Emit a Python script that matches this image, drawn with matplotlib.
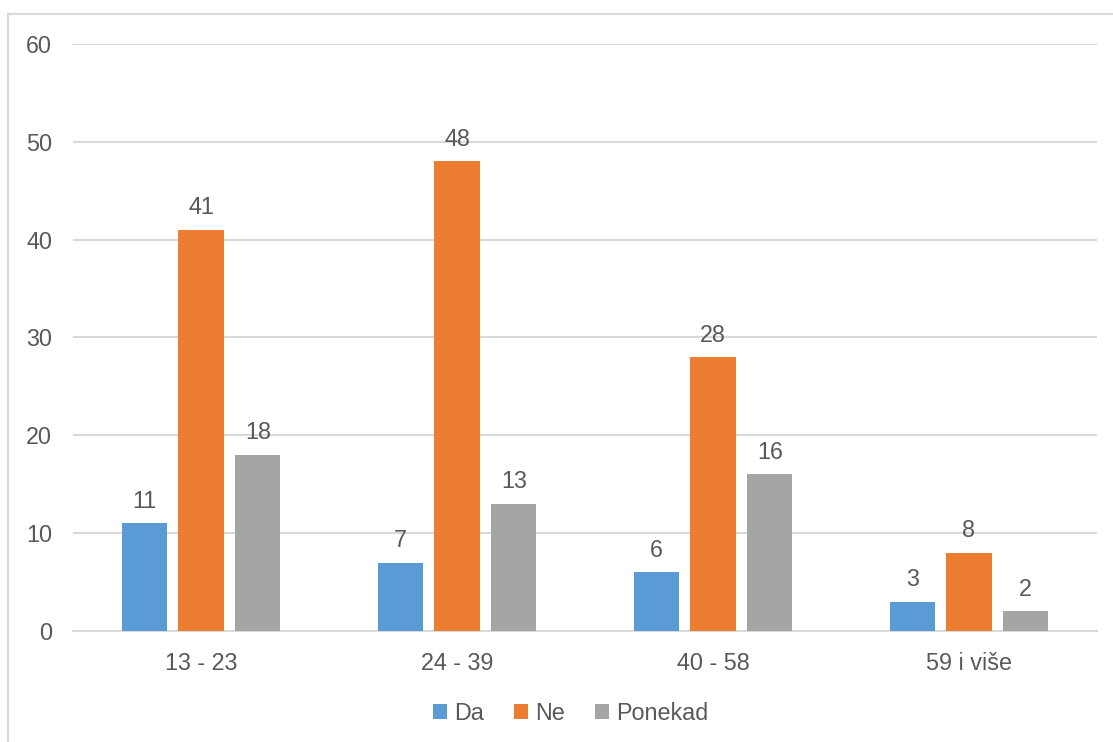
import numpy as np
import matplotlib
matplotlib.use("Agg")
from matplotlib import pyplot as plt
from matplotlib.lines import Line2D

categories = ["13 - 23", "24 - 39", "40 - 58", "59 i više"]
series_names = ["Da", "Ne", "Ponekad"]
da = [11, 7, 6, 3]
ne = [41, 48, 28, 8]
ponekad = [18, 13, 16, 2]

colors = ["#5B9BD5", "#ED7D31", "#A5A5A5"]
text_color = "#595959"

plt.rcParams["font.family"] = ["Liberation Sans", "DejaVu Sans"]

fig = plt.figure(figsize=(11.13, 7.42), dpi=100)
ax = fig.add_axes([0.0656, 0.1496, 0.92, 0.7911])

x = np.arange(len(categories))
offsets = [-0.222, 0.0, 0.222]
width = 0.176
fs = 16.8

for vals, off, col, name in zip([da, ne, ponekad], offsets, colors, series_names):
    bars = ax.bar(x + off, vals, width, color=col, label=name, zorder=3)
    for b, v in zip(bars, vals):
        ax.annotate(str(v), (b.get_x() + b.get_width() / 2, v),
                    xytext=(0, 7.5), textcoords="offset points",
                    ha="center", va="bottom", fontsize=fs, color=text_color)

ax.set_xlim(-0.5, len(categories) - 0.5)
ax.set_ylim(0, 60)
ax.set_yticks(range(0, 61, 10))
ax.set_xticks(x)
ax.set_xticklabels(categories)
ax.tick_params(axis="both", length=0, labelsize=fs, labelcolor=text_color)
ax.tick_params(axis="x", pad=15)
ax.tick_params(axis="y", pad=15)
ax.grid(axis="y", color="#D9D9D9", linewidth=1.5, zorder=0)
for s in ["top", "right", "left"]:
    ax.spines[s].set_visible(False)
ax.spines["bottom"].set_color("#D9D9D9")
ax.spines["bottom"].set_linewidth(1.5)

leg = ax.legend(loc="center", bbox_to_anchor=(0.486, -0.14), ncol=3, frameon=False,
                fontsize=fs, handlelength=0.6, handleheight=0.6,
                handletextpad=0.3, columnspacing=1.3)
for t in leg.get_texts():
    t.set_color(text_color)

# chart frame (left and top edges visible)
fig.add_artist(Line2D([8 / 1113, 8 / 1113], [0, 1 - 14 / 742], color="#D9D9D9", linewidth=1.5))
fig.add_artist(Line2D([8 / 1113, 1], [1 - 14 / 742, 1 - 14 / 742], color="#D9D9D9", linewidth=1.5))

fig.savefig("out.png", dpi=100)
